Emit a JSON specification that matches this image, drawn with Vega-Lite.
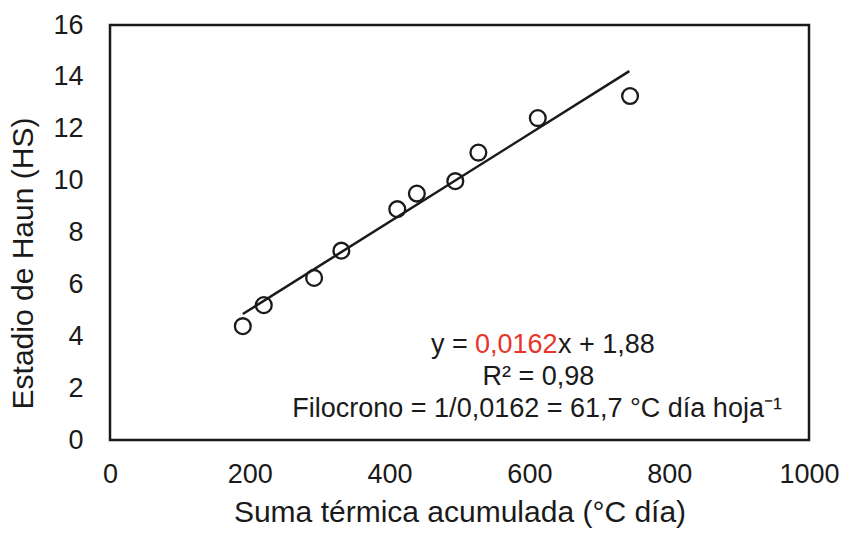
{
  "$schema": "https://vega.github.io/schema/vega-lite/v6.json",
  "width": 699,
  "height": 415,
  "autosize": {"type": "none"},
  "padding": {"left": 110, "top": 25, "right": 35, "bottom": 93},
  "background": "white",
  "config": {
    "font": "Liberation Sans",
    "view": {"stroke": "#1a1a1a", "strokeWidth": 2.5},
    "axis": {
      "grid": false,
      "domain": false,
      "ticks": false,
      "tickSize": 0,
      "labelFlush": false,
      "labelOverlap": false,
      "labelFont": "Liberation Sans",
      "labelFontSize": 27,
      "labelColor": "#1a1a1a",
      "titleFont": "Liberation Sans",
      "titleFontSize": 30,
      "titleFontWeight": "normal",
      "titleColor": "#1a1a1a"
    }
  },
  "datasets": {
    "points": [
      {"suma": 190, "hs": 4.39},
      {"suma": 220, "hs": 5.2},
      {"suma": 292, "hs": 6.25},
      {"suma": 331, "hs": 7.3},
      {"suma": 411, "hs": 8.9},
      {"suma": 439, "hs": 9.5},
      {"suma": 494, "hs": 9.98},
      {"suma": 527, "hs": 11.08},
      {"suma": 612, "hs": 12.41},
      {"suma": 744, "hs": 13.26}
    ],
    "fit": [
      {"suma": 190, "hs": 4.86},
      {"suma": 743, "hs": 14.22}
    ],
    "notes": [
      {"part": "eq1", "label": "y =", "suma": 512, "hs": 3.66},
      {"part": "eq2", "label": "0,0162", "suma": 522, "hs": 3.66},
      {"part": "eq3", "label": "x + 1,88", "suma": 641, "hs": 3.66},
      {"part": "r2", "label": "R² = 0,98", "suma": 613, "hs": 2.42},
      {"part": "filo", "label": "Filocrono = 1/0,0162 = 61,7 °C  día hoja⁻¹", "suma": 611, "hs": 1.2}
    ]
  },
  "layer": [
    {
      "data": {"name": "fit"},
      "mark": {"type": "line", "color": "#1a1a1a", "strokeWidth": 2.5},
      "encoding": {
        "x": {"field": "suma", "type": "quantitative", "scale": {"domain": [0, 1000], "nice": false},
          "axis": {"values": [0, 200, 400, 600, 800, 1000], "format": "d", "labelPadding": 21, "title": "Suma térmica acumulada (°C día)", "titlePadding": 10}},
        "y": {"field": "hs", "type": "quantitative", "scale": {"domain": [0, 16], "nice": false},
          "axis": {"values": [0, 2, 4, 6, 8, 10, 12, 14, 16], "labelPadding": 27, "title": "Estadio de Haun (HS)", "titlePadding": 14, "titleY": 238}}
      }
    },
    {
      "data": {"name": "points"},
      "mark": {"type": "point", "shape": "circle", "filled": false, "size": 250, "strokeWidth": 2.3, "color": "#1a1a1a", "opacity": 1},
      "encoding": {
        "x": {"field": "suma", "type": "quantitative"},
        "y": {"field": "hs", "type": "quantitative"}
      }
    },
    {
      "data": {"name": "notes"},
      "transform": [{"filter": "datum.part == 'eq1'"}],
      "mark": {"type": "text", "align": "right", "baseline": "middle", "fontSize": 27, "color": "#1a1a1a"},
      "encoding": {
        "x": {"field": "suma", "type": "quantitative"},
        "y": {"field": "hs", "type": "quantitative"},
        "text": {"field": "label"}
      }
    },
    {
      "data": {"name": "notes"},
      "transform": [{"filter": "datum.part == 'eq2'"}],
      "mark": {"type": "text", "align": "left", "baseline": "middle", "fontSize": 27, "color": "#e8352b"},
      "encoding": {
        "x": {"field": "suma", "type": "quantitative"},
        "y": {"field": "hs", "type": "quantitative"},
        "text": {"field": "label"}
      }
    },
    {
      "data": {"name": "notes"},
      "transform": [{"filter": "datum.part == 'eq3'"}],
      "mark": {"type": "text", "align": "left", "baseline": "middle", "fontSize": 27, "color": "#1a1a1a"},
      "encoding": {
        "x": {"field": "suma", "type": "quantitative"},
        "y": {"field": "hs", "type": "quantitative"},
        "text": {"field": "label"}
      }
    },
    {
      "data": {"name": "notes"},
      "transform": [{"filter": "datum.part == 'r2' || datum.part == 'filo'"}],
      "mark": {"type": "text", "align": "center", "baseline": "middle", "fontSize": 27, "color": "#1a1a1a"},
      "encoding": {
        "x": {"field": "suma", "type": "quantitative"},
        "y": {"field": "hs", "type": "quantitative"},
        "text": {"field": "label"}
      }
    }
  ]
}
